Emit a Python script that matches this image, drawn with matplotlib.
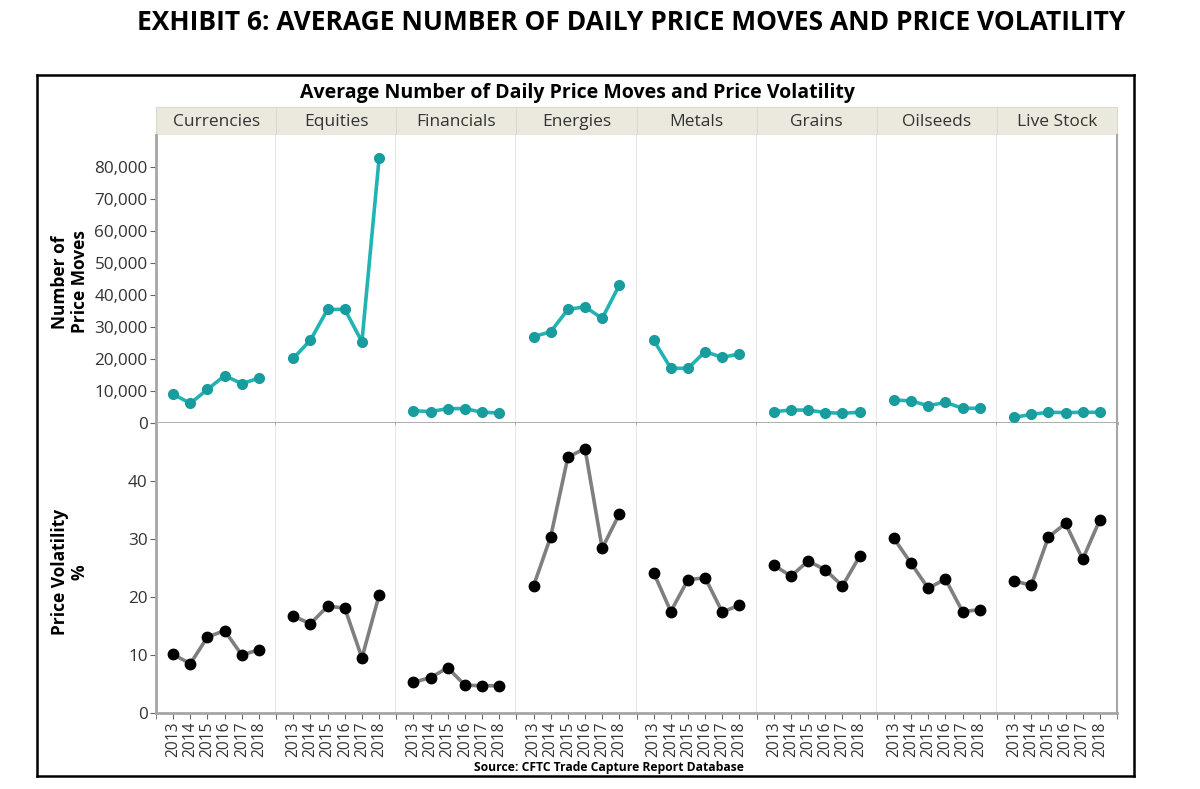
import numpy as np
import matplotlib.pyplot as plt
from matplotlib.ticker import FuncFormatter

plt.rcParams['font.family'] = ['Open Sans', 'DejaVu Sans']

# data
sectors = ['Currencies', 'Equities', 'Financials', 'Energies',
           'Metals', 'Grains', 'Oilseeds', 'Live Stock']
years = [2013, 2014, 2015, 2016, 2017, 2018]

moves = [
    [9000, 6150, 10500, 14800, 12300, 14000],
    [20200, 25900, 35500, 35500, 25400, 82700],
    [3850, 3550, 4500, 4500, 3350, 3150],
    [27000, 28500, 35500, 36300, 32700, 43100],
    [25900, 17100, 17100, 22300, 20500, 21600],
    [3550, 4050, 4050, 3250, 3050, 3350],
    [7200, 6900, 5400, 6450, 4600, 4600],
    [1750, 2700, 3350, 3250, 3350, 3350],
]
volatility = [
    [10.1, 8.5, 13.1, 14.2, 10.0, 10.9],
    [16.7, 15.4, 18.4, 18.1, 9.5, 20.3],
    [5.3, 6.1, 7.8, 4.8, 4.7, 4.7],
    [21.9, 30.4, 44.1, 45.6, 28.4, 34.3],
    [24.2, 17.5, 23.0, 23.3, 17.4, 18.6],
    [25.5, 23.6, 26.2, 24.7, 21.9, 27.0],
    [30.1, 25.8, 21.5, 23.1, 17.5, 17.8],
    [22.8, 22.0, 30.3, 32.7, 26.5, 33.3],
]

W, H = 1200, 789
fig = plt.figure(figsize=(12, 7.89), dpi=100)

def box(x0, y0, x1, y1):
    # pixel box (top-left origin) -> figure fraction rect
    return [x0 / W, 1 - y1 / H, (x1 - x0) / W, (y1 - y0) / H]

fig.text(631 / W, 1 - 23 / H, 'EXHIBIT 6: AVERAGE NUMBER OF DAILY PRICE MOVES AND PRICE VOLATILITY',
         ha='center', va='center', fontsize=19, fontweight='bold')

frame = fig.add_axes(box(37, 75, 1134, 776))
frame.set_xticks([])
frame.set_yticks([])
frame.patch.set_alpha(0)
for s in frame.spines.values():
    s.set_linewidth(1.8)
    s.set_color('black')

fig.text(577 / W, 1 - 93 / H, 'Average Number of Daily Price Moves and Price Volatility',
         ha='center', va='center', fontsize=14, fontweight='bold')

left, right = 156, 1117
colw = (right - left) / len(sectors)
top_y0, mid_y, bot_y1 = 135, 423, 713
grey = '#a6a6a6'
teal_line = '#22b3b5'
teal_mark = '#189c9e'

for i, name in enumerate(sectors):
    x0 = left + i * colw
    x1 = x0 + colw

    hdr = fig.add_axes(box(x0, 107, x1, top_y0))
    hdr.set_facecolor('#ebe8de')
    hdr.set_xticks([])
    hdr.set_yticks([])
    for s in hdr.spines.values():
        s.set_color('#dcd9cf')
        s.set_linewidth(0.8)
    hdr.text(0.5, 0.45, name, ha='center', va='center', fontsize=12.5,
             color='#333333', transform=hdr.transAxes)

    ax1 = fig.add_axes(box(x0, top_y0, x1, mid_y))
    ax2 = fig.add_axes(box(x0, mid_y, x1, bot_y1))

    ax1.plot(years, moves[i], color=teal_line, lw=2.6, marker='o', ms=7,
             mfc=teal_mark, mec=teal_mark, zorder=3)
    ax2.plot(years, volatility[i], color='#7f7f7f', lw=2.6, marker='o', ms=7.5,
             mfc='black', mec='black', zorder=3)

    ax1.set_ylim(0, 90000)
    ax2.set_ylim(0, 50)
    for ax in (ax1, ax2):
        ax.set_xlim(2012, 2019)
        for s in ax.spines.values():
            s.set_visible(False)
        ax.axvline(2019, color='#e0e0e0', lw=1.2, zorder=0)

    ax1.set_xticks([])
    ax1.spines['bottom'].set_visible(True)
    ax1.spines['bottom'].set_color(grey)
    ax1.spines['bottom'].set_linewidth(2)

    ax2.spines['bottom'].set_visible(True)
    ax2.spines['bottom'].set_color(grey)
    ax2.spines['bottom'].set_linewidth(2)
    ax2.set_xticks(years)
    ax2.set_xticklabels([str(y) for y in years], rotation=90, fontsize=11.2,
                        color='#333333')
    ax2.set_xticks([2012, 2019], minor=True)
    ax2.tick_params(axis='x', which='both', length=4, color='#666666',
                    pad=2, direction='out')

    if i == 0:
        for ax in (ax1, ax2):
            ax.spines['left'].set_visible(True)
            ax.spines['left'].set_color(grey)
            ax.spines['left'].set_linewidth(2)
        ax1.set_yticks(np.arange(0, 80001, 10000))
        ax1.yaxis.set_major_formatter(FuncFormatter(lambda v, p: f'{int(v):,}'))
        ax2.set_yticks([0, 10, 20, 30, 40])
        for ax in (ax1, ax2):
            ax.tick_params(axis='y', length=4, color='#666666', labelsize=12.3,
                           labelcolor='#333333', pad=2)
    else:
        ax1.set_yticks([])
        ax2.set_yticks([])
    if i == len(sectors) - 1:
        for ax in (ax1, ax2):
            ax.spines['right'].set_visible(True)
            ax.spines['right'].set_color(grey)
            ax.spines['right'].set_linewidth(1.5)

fig.text(70 / W, 1 - 282 / H, 'Number of\nPrice Moves', rotation=90,
         ha='center', va='center', fontsize=12.5, fontweight='bold',
         linespacing=1.1)
fig.text(70 / W, 1 - 572 / H, 'Price Volatility\n%', rotation=90,
         ha='center', va='center', fontsize=12.5, fontweight='bold',
         linespacing=1.1)
fig.text(609 / W, 1 - 767 / H, 'Source: CFTC Trade Capture Report Database',
         ha='center', va='center', fontsize=8.7, fontweight='bold')

fig.savefig('out.png', dpi=100)
